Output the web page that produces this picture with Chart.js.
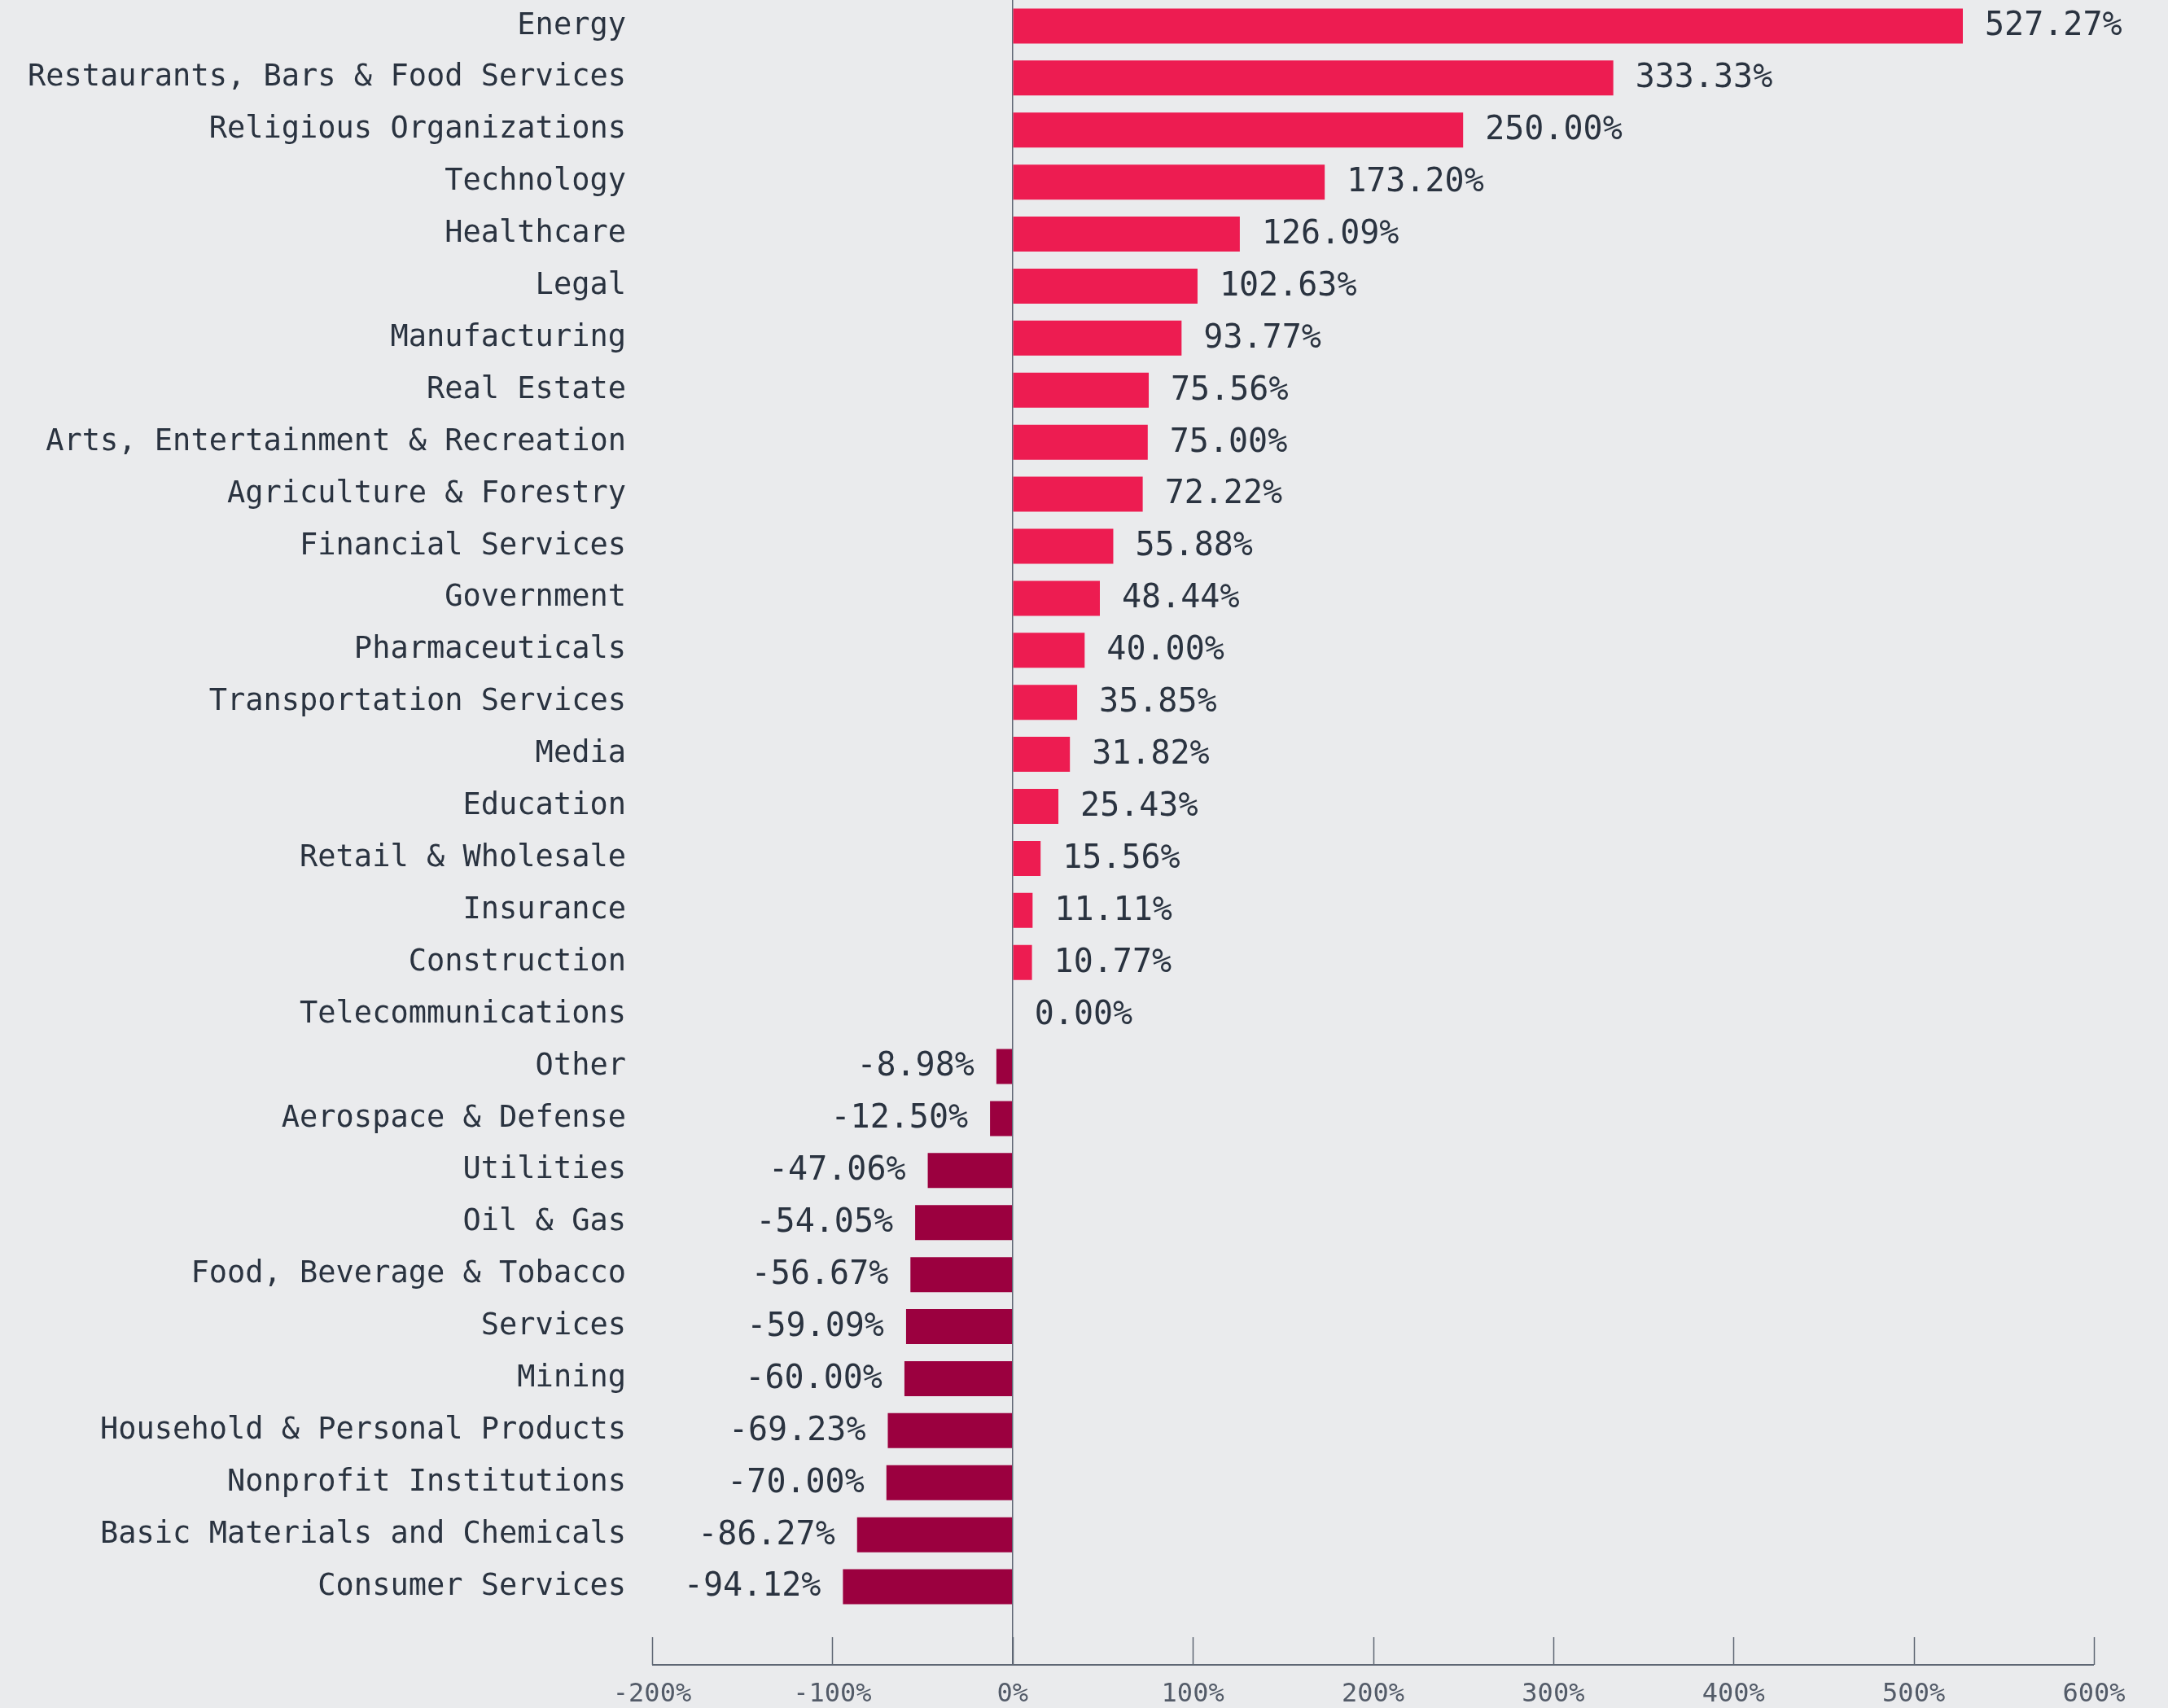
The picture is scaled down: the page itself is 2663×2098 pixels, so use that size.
<!DOCTYPE html>
<html>
<head>
<meta charset="utf-8">
<script src="https://cdn.jsdelivr.net/npm/chart.js@4"></script>
<style>
  html, body { margin: 0; padding: 0; background: #eaebed; }
  #wrap { width: 2663px; height: 2098px; position: relative; }
</style>
</head>
<body>
<div id="wrap"><canvas id="barChart"></canvas></div>
<script>
const sectors = [
    'Energy', 'Restaurants, Bars & Food Services', 'Religious Organizations', 'Technology',
    'Healthcare', 'Legal', 'Manufacturing', 'Real Estate', 'Arts, Entertainment & Recreation',
    'Agriculture & Forestry', 'Financial Services', 'Government', 'Pharmaceuticals',
    'Transportation Services', 'Media', 'Education', 'Retail & Wholesale', 'Insurance',
    'Construction', 'Telecommunications', 'Other', 'Aerospace & Defense', 'Utilities',
    'Oil & Gas', 'Food, Beverage & Tobacco', 'Services', 'Mining',
    'Household & Personal Products', 'Nonprofit Institutions', 'Basic Materials and Chemicals',
    'Consumer Services'
];
const changePercent = [
    527.27, 333.33, 250.00, 173.20, 126.09, 102.63, 93.77, 75.56, 75.00,
    72.22, 55.88, 48.44, 40.00, 35.85, 31.82, 25.43, 15.56, 11.11,
    10.77, 0.00, -8.98, -12.50, -47.06, -54.05, -56.67, -59.09, -60.00,
    -69.23, -70.00, -86.27, -94.12
];
const xTicks = [-200, -100, 0, 100, 200, 300, 400, 500, 600];

const positiveColor = '#ed1c51';
const negativeColor = '#9b003f';
const textColor = '#2a3340';
const axisColor = '#5f6774';
const monoFont = "'DejaVu Sans Mono', 'Liberation Mono', monospace";

// value labels next to each bar end
const valueLabels = {
    id: 'valueLabels',
    afterDatasetsDraw(chart) {
        const ctx = chart.ctx;
        const meta = chart.getDatasetMeta(0);
        ctx.save();
        ctx.font = '40px ' + monoFont;
        ctx.fillStyle = textColor;
        ctx.textBaseline = 'middle';
        meta.data.forEach((bar, i) => {
            let v = changePercent[i];
            let label = v.toFixed(2) + '%';
            if (v < 0) {
                ctx.textAlign = 'right';
                ctx.fillText(label, bar.x - 27, bar.y + 1);
            } else {
                ctx.textAlign = 'left';
                ctx.fillText(label, bar.x + 27, bar.y + 1);
            }
        });
        ctx.restore();
    }
};

// bottom baseline with upward tick stubs
const bottomAxis = {
    id: 'bottomAxis',
    afterDraw(chart) {
        const ctx = chart.ctx;
        const x = chart.scales.x;
        const base = chart.chartArea.bottom + 64;
        ctx.save();
        ctx.strokeStyle = axisColor;
        ctx.lineWidth = 1.5;
        x.ticks.forEach((t, i) => {
            let px = Math.round(x.getPixelForTick(i)) + 0.5;
            ctx.beginPath();
            ctx.moveTo(px, base - 34);
            ctx.lineTo(px, base);
            ctx.stroke();
        });
        ctx.lineWidth = 2;
        ctx.beginPath();
        ctx.moveTo(x.getPixelForValue(xTicks[0]), base);
        ctx.lineTo(x.getPixelForValue(xTicks[xTicks.length - 1]), base);
        ctx.stroke();
        ctx.restore();
    }
};

const ctx = document.getElementById('barChart').getContext('2d');
window.chart = new Chart(ctx, {
    type: 'bar',
    data: {
        labels: sectors,
        datasets: [{
            label: 'Change',
            data: changePercent,
            backgroundColor: changePercent.map(v => v >= 0 ? positiveColor : negativeColor),
            borderWidth: 0,
            barPercentage: 0.673,
            categoryPercentage: 1
        }]
    },
    options: {
        indexAxis: 'y',
        responsive: true,
        maintainAspectRatio: false,
        animation: false,
        layout: { padding: { left: 0, right: 91, top: 0, bottom: 0 } },
        plugins: {
            legend: { display: false },
            tooltip: { enabled: false }
        },
        scales: {
            x: {
                min: xTicks[0],
                max: xTicks[xTicks.length - 1],
                afterFit: (scale) => { scale.height = 117; },
                afterBuildTicks: (scale) => { scale.ticks = xTicks.map(v => ({ value: v })); },
                border: { display: false },
                grid: {
                    drawOnChartArea: true,
                    drawTicks: true,
                    tickLength: 64,
                    lineWidth: 1.5,
                    color: (c) => c.tick && c.tick.value === 0 ? axisColor : 'rgba(0,0,0,0)',
                    tickColor: (c) => c.tick && c.tick.value === 0 ? axisColor : 'rgba(0,0,0,0)'
                },
                ticks: {
                    padding: 17,
                    color: '#535b68',
                    font: { family: monoFont, size: 32 },
                    callback: (v) => v + '%'
                }
            },
            y: {
                afterFit: (scale) => {
                    scale.width = 801;
                    scale.paddingTop = 0;
                    scale.paddingBottom = 0;
                },
                border: { display: false },
                grid: { display: false },
                ticks: {
                    padding: 24,
                    color: textColor,
                    font: { family: monoFont, size: 37 },
                    autoSkip: false
                }
            }
        }
    },
    plugins: [valueLabels, bottomAxis]
});
</script>
</body>
</html>
